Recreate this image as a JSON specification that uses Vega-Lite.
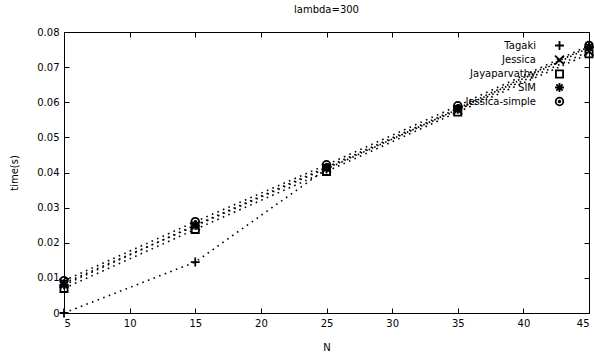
{
  "$schema": "https://vega.github.io/schema/vega-lite/v6.json",
  "autosize": {"type": "none"},
  "padding": {"left": 64, "top": 32, "right": 5, "bottom": 45},
  "width": 525,
  "height": 281,
  "background": "white",
  "title": {"text": "lambda=300", "font": "DejaVu Sans", "fontSize": 10, "fontWeight": "normal", "color": "black", "offset": 12},
  "config": {
    "view": {"stroke": "black", "strokeWidth": 1},
    "axis": {"labelFont": "DejaVu Sans", "labelFontSize": 10, "labelColor": "black", "titleFont": "DejaVu Sans", "titleFontSize": 10, "titleFontWeight": "normal", "titleColor": "black", "grid": false, "domainColor": "black", "tickColor": "black", "tickSize": -5, "labelPadding": 10},
    "legend": {"labelFont": "DejaVu Sans", "labelFontSize": 10, "labelColor": "black"}
  },
  "data": {"values": [
    {"method": "Tagaki", "N": 5, "time": 0.0},
    {"method": "Tagaki", "N": 15, "time": 0.0145},
    {"method": "Tagaki", "N": 25, "time": 0.041},
    {"method": "Tagaki", "N": 35, "time": 0.058},
    {"method": "Tagaki", "N": 45, "time": 0.0755},
    {"method": "Jessica", "N": 5, "time": 0.0085},
    {"method": "Jessica", "N": 15, "time": 0.0248},
    {"method": "Jessica", "N": 25, "time": 0.0412},
    {"method": "Jessica", "N": 35, "time": 0.0578},
    {"method": "Jessica", "N": 45, "time": 0.0745},
    {"method": "Jayaparvathy", "N": 5, "time": 0.007},
    {"method": "Jayaparvathy", "N": 15, "time": 0.0238},
    {"method": "Jayaparvathy", "N": 25, "time": 0.0403},
    {"method": "Jayaparvathy", "N": 35, "time": 0.0572},
    {"method": "Jayaparvathy", "N": 45, "time": 0.0738},
    {"method": "SIM", "N": 5, "time": 0.008},
    {"method": "SIM", "N": 15, "time": 0.025},
    {"method": "SIM", "N": 25, "time": 0.0415},
    {"method": "SIM", "N": 35, "time": 0.0582},
    {"method": "SIM", "N": 45, "time": 0.0758},
    {"method": "Jessica-simple", "N": 5, "time": 0.0092},
    {"method": "Jessica-simple", "N": 15, "time": 0.026},
    {"method": "Jessica-simple", "N": 25, "time": 0.0422},
    {"method": "Jessica-simple", "N": 35, "time": 0.059},
    {"method": "Jessica-simple", "N": 45, "time": 0.0762}
  ]},
  "layer": [
    {
      "mark": {"type": "line", "color": "black", "strokeWidth": 1.6, "strokeDash": [1.6, 4.4]},
      "encoding": {
        "x": {"field": "N", "type": "quantitative", "scale": {"domain": [5, 45], "nice": false, "zero": false}, "axis": {"values": [5, 10, 15, 20, 25, 30, 35, 40, 45], "title": "N", "titlePadding": 14}},
        "y": {"field": "time", "type": "quantitative", "scale": {"domain": [0, 0.08], "nice": false}, "axis": {"values": [0, 0.01, 0.02, 0.03, 0.04, 0.05, 0.06, 0.07, 0.08], "format": ".2~f", "title": "time(s)", "titlePadding": 17}},
        "detail": {"field": "method"}
      }
    },
    {
      "mark": {"type": "point", "filled": false, "stroke": "black", "strokeWidth": 1.8, "size": 80, "opacity": 1},
      "encoding": {
        "x": {"field": "N", "type": "quantitative", "axis": {"orient": "top", "values": [5, 10, 15, 20, 25, 30, 35, 40, 45], "labels": false, "title": null}},
        "y": {"field": "time", "type": "quantitative", "axis": {"orient": "right", "values": [0, 0.01, 0.02, 0.03, 0.04, 0.05, 0.06, 0.07, 0.08], "labels": false, "title": null}},
        "shape": {"field": "method", "type": "nominal",
          "scale": {"domain": ["Tagaki", "Jessica", "Jayaparvathy", "SIM", "Jessica-simple"],
                    "range": ["M-1,0L1,0M0,-1L0,1", "M-1,-1L1,1M-1,1L1,-1", "M-0.8,-0.8L0.8,-0.8L0.8,0.8L-0.8,0.8Z", "M-1,0L1,0M0,-1L0,1M-0.7,-0.7L0.7,0.7M-0.7,0.7L0.7,-0.7", "M-0.85,0A0.85,0.85,0,1,1,0.85,0A0.85,0.85,0,1,1,-0.85,0Z M-0.2,0A0.2,0.2,0,1,1,0.2,0A0.2,0.2,0,1,1,-0.2,0Z"]},
          "legend": {"title": null, "orient": "none", "legendX": 490, "legendY": 8, "labelAlign": "right", "labelOffset": -29, "symbolStrokeColor": "black", "symbolStrokeWidth": 1.8, "symbolSize": 80, "rowPadding": -2.5, "symbolFillColor": "transparent"}
        }
      }
    }
  ],
  "resolve": {"axis": {"x": "independent", "y": "independent"}}
}
